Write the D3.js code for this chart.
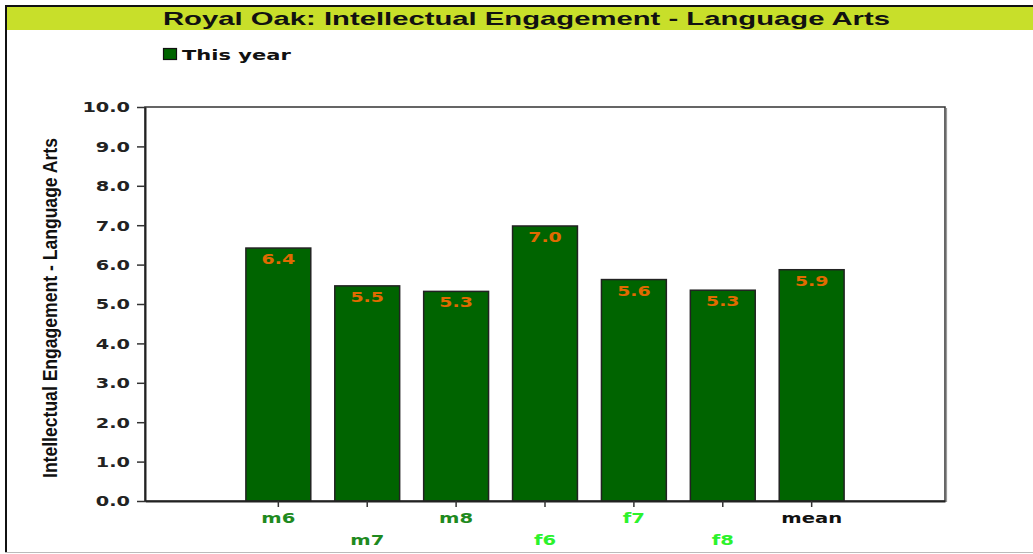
<!DOCTYPE html>
<html>
<head>
<meta charset="utf-8">
<script src="https://cdn.jsdelivr.net/npm/d3@7"></script>
<style>
  body { margin: 0; background: #fff; }
  svg { display: block; }
  text { font-family: "DejaVu Sans", sans-serif; font-weight: bold; }
</style>
</head>
<body>
<svg width="1033" height="554"></svg>
<script>
// chart data
var categories = ["m6", "m7", "m8", "f6", "f7", "f8", "mean"];
var values = [6.42, 5.46, 5.32, 6.98, 5.62, 5.35, 5.87];
var labelColors = ["#1f8a1f", "#1f8a1f", "#1f8a1f", "#2cf22c", "#2cf22c", "#2cf22c", "#111"];
var yTicks = [0, 1, 2, 3, 4, 5, 6, 7, 8, 9, 10];
var seriesName = "This year";
var title = "Royal Oak: Intellectual Engagement - Language Arts";
var yTitle = "Intellectual Engagement - Language Arts";

var svg = d3.select("svg");
var margin = {left: 145, right: 88, top: 107, bottom: 53};
var width = +svg.attr("width"), height = +svg.attr("height");
var innerwidth = width - margin.left - margin.right;
var innerheight = height - margin.top - margin.bottom;

// stretch text horizontally like the original (wide glyphs)
function widen(sel, k) {
	sel.each(function(){
		var len = this.getComputedTextLength();
		d3.select(this).attr("textLength", len * k).attr("lengthAdjust", "spacingAndGlyphs");
	});
}

// outer frame
svg.append("rect").attr("x", 0).attr("y", 0).attr("width", width).attr("height", height).attr("fill", "#fff");
svg.append("line").attr("x1", 5).attr("x2", width).attr("y1", 6).attr("y2", 6).attr("stroke", "#111").attr("stroke-width", 2);
svg.append("line").attr("x1", 6).attr("x2", 6).attr("y1", 5).attr("y2", 552).attr("stroke", "#111").attr("stroke-width", 2);
svg.append("line").attr("x1", 5).attr("x2", width).attr("y1", 552.5).attr("y2", 552.5).attr("stroke", "#bbb").attr("stroke-width", 1);

// title band
svg.append("rect").attr("x", 7).attr("y", 7).attr("width", width - 7).attr("height", 23).attr("fill", "#c8df2a");
svg.append("text").attr("x", 163).attr("y", 25)
	.style("font-family", "'Liberation Sans', Arial, sans-serif").style("font-size", "19px")
	.attr("fill", "#111").text(title)
	.attr("textLength", 727).attr("lengthAdjust", "spacingAndGlyphs");

// legend
svg.append("rect").attr("x", 163.5).attr("y", 48.5).attr("width", 13).attr("height", 11)
	.attr("fill", "#006400").attr("stroke", "#111").attr("stroke-width", 1.2);
svg.append("text").attr("x", 182).attr("y", 59.5).style("font-size", "14px").attr("fill", "#111")
	.text(seriesName).call(widen, 1.5);

var xscale = d3.scaleBand()
	.domain(categories)
	.range([0, innerwidth])
	.paddingInner(0.27)
	.paddingOuter(1.135);

var yscale = d3.scaleLinear()
	.domain([0, 10])
	.range([innerheight, 0]);

var g = svg.append("g").attr("transform", `translate(${margin.left},${margin.top})`);

// plot frame (top/right)
g.append("rect").attr("x", 0).attr("y", 0).attr("width", innerwidth).attr("height", innerheight)
	.attr("fill", "none").attr("stroke", "#333").attr("stroke-width", 1.5);
g.append("line").attr("x1", innerwidth + 1.5).attr("x2", innerwidth + 1.5).attr("y1", 1).attr("y2", innerheight + 1)
	.attr("stroke", "#999").attr("stroke-width", 1.2);

// bars
var bars = g.append("g");
bars.selectAll("rect").data(values)
	.enter()
	.append("rect")
	.attr("x", (d, i) => xscale(categories[i]))
	.attr("y", d => yscale(d))
	.attr("width", xscale.bandwidth())
	.attr("height", d => innerheight - yscale(d))
	.attr("fill", "#006400")
	.attr("stroke", "#222")
	.attr("stroke-width", 1.5);

bars.selectAll("text").data(values)
	.enter()
	.append("text")
	.attr("x", (d, i) => xscale(categories[i]) + xscale.bandwidth() / 2)
	.attr("y", d => yscale(d) + 16)
	.attr("text-anchor", "middle")
	.style("font-size", "13.5px")
	.attr("fill", "#e06a00")
	.text(d => d.toFixed(1))
	.call(widen, 1.4);

// y axis
var yaxis = g.append("g").call(d3.axisLeft(yscale).tickValues(yTicks).tickFormat(d3.format(".1f")).tickSize(8).tickSizeOuter(0));
yaxis.select(".domain").attr("stroke", "#222").attr("stroke-width", 2);
yaxis.selectAll(".tick line").attr("stroke", "#333").attr("stroke-width", 1.5);
yaxis.selectAll(".tick text").attr("x", -15).attr("dy", "0.36em")
	.style("font-size", "13.5px").style("font-family", "'DejaVu Sans', sans-serif").style("font-weight", "bold")
	.attr("fill", "#222").call(widen, 1.43);

// x axis
var xaxis = g.append("g").attr("transform", `translate(0,${innerheight})`)
	.call(d3.axisBottom(xscale).tickSize(6).tickSizeOuter(0));
xaxis.select(".domain").attr("stroke", "#222").attr("stroke-width", 2);
xaxis.selectAll(".tick line").attr("stroke", "#333").attr("stroke-width", 1.5);
xaxis.selectAll(".tick text")
	.attr("y", (d, i) => i % 2 === 0 ? 22 : 44)
	.attr("dy", 0)
	.style("font-size", "13.5px").style("font-family", "'DejaVu Sans', sans-serif").style("font-weight", "bold")
	.attr("fill", (d, i) => labelColors[i])
	.call(widen, 1.45);

// y title
svg.append("text")
	.attr("transform", "translate(57,308) rotate(-90) scale(1,1.15)")
	.attr("text-anchor", "middle")
	.style("font-family", "'Liberation Sans', Arial, sans-serif").style("font-size", "18px")
	.attr("fill", "#111")
	.text(yTitle)
	.attr("textLength", 340).attr("lengthAdjust", "spacingAndGlyphs");
</script>
</body>
</html>
